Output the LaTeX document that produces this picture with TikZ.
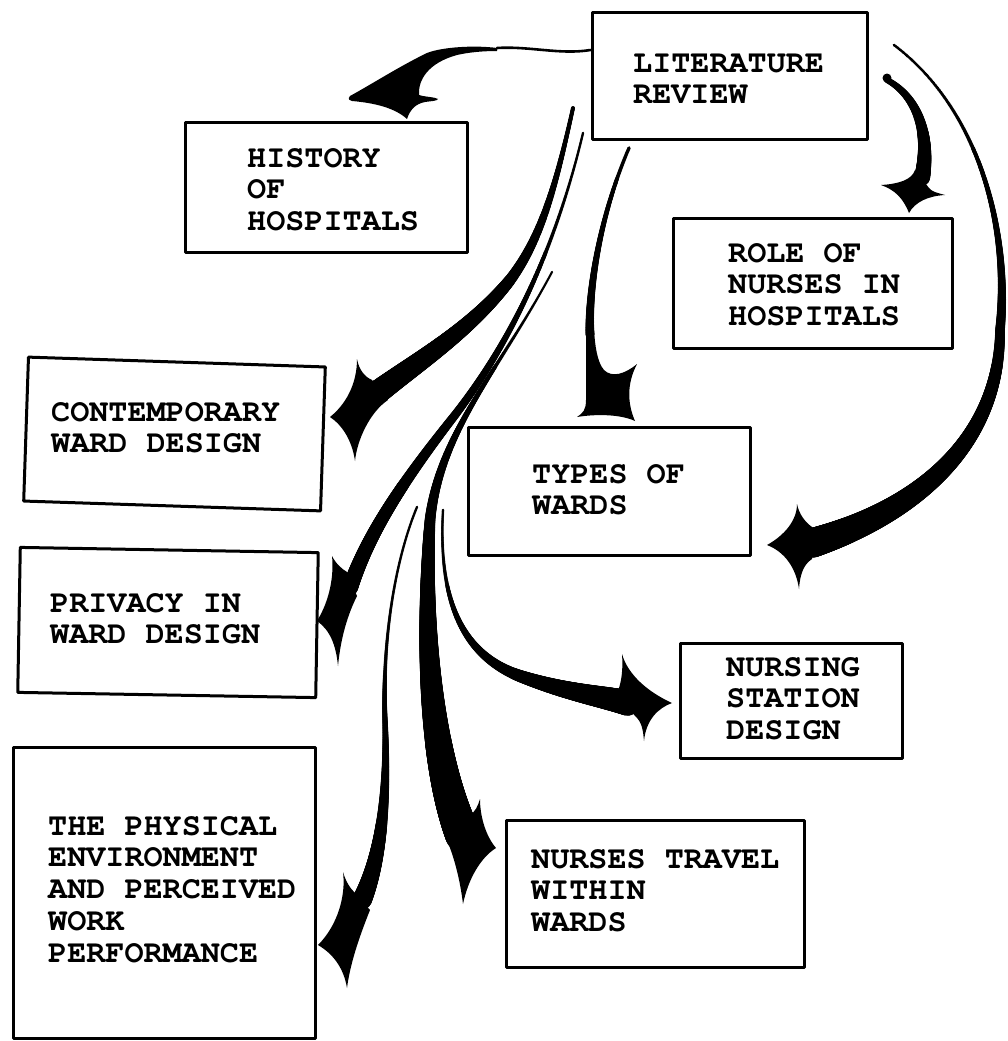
\documentclass[tikz,border=0pt]{standalone}
\usepackage[T1]{fontenc}
\usetikzlibrary{calc,decorations.markings}
\begin{document}
\begin{tikzpicture}[x=1pt,y=-1pt,
  box/.style={draw, line width=3pt, inner sep=0pt, line join=round},
  txt/.style={anchor=north west, inner sep=0pt, align=left,
    font={\fontencoding{T1}\fontfamily{pcr}\fontseries{b}\fontsize{31.8}{31.7}\selectfont}},
  tailline/.style={line width=2.6pt, line cap=round},
  taper/.style n args={3}{postaction={decorate, decoration={markings,
    mark=between positions 0 and 1 step 0.7pt with {%
      \pgfmathsetmacro\rr{#1+(#2-#1)*pow(max(0.001,\pgfkeysvalueof{/pgf/decoration/mark info/distance from start}/\pgfdecoratedpathlength),#3)}%
      \fill (0,0) circle[radius=\rr pt];}}}}]
\useasboundingbox (0,0) rectangle (1008,1041);

% boxes
\node[box, minimum width=275pt, minimum height=126pt] (lit) at (729.5,76) {};
\node[box, minimum width=282pt, minimum height=130pt] (hist) at (326,187) {};
\node[box, minimum width=279pt, minimum height=130pt] (role) at (812.5,283) {};
\node[box, minimum width=297pt, minimum height=144pt, rotate=-1.9] (cont) at (174.5,434) {};
\node[box, minimum width=282pt, minimum height=128pt] (types) at (609,491) {};
\node[box, minimum width=298pt, minimum height=145pt, rotate=-1] (priv) at (168,622.5) {};
\node[box, minimum width=302pt, minimum height=291pt] (phys) at (164,892.5) {};
\node[box, minimum width=222pt, minimum height=115pt] (nsd) at (791,700.5) {};
\node[box, minimum width=298pt, minimum height=147pt] (ntw) at (655,893.5) {};

% texts (first baseline = y + 24)
\node[txt] (lit-t) at (633,48) {\rule{0pt}{24pt}LITERATURE\\REVIEW};
\node[txt] (hist-t) at (247,143) {\rule{0pt}{24pt}HISTORY\\OF\\HOSPITALS};
\node[txt] (role-t) at (728,238) {\rule{0pt}{24pt}ROLE OF\\NURSES IN\\HOSPITALS};
\node[txt] (cont-t) at (51,397) {\rule{0pt}{24pt}CONTEMPORARY\\WARD DESIGN};
\node[txt] (types-t) at (532,459) {\rule{0pt}{24pt}TYPES OF\\WARDS};
\node[txt] (priv-t) at (50,588) {\rule{0pt}{24pt}PRIVACY IN\\WARD DESIGN};
\node[txt] (phys-t) at (48,811) {\rule{0pt}{24pt}THE PHYSICAL\\ENVIRONMENT\\AND PERCEIVED\\WORK\\PERFORMANCE};
\node[txt] (nsd-t) at (726,652) {\rule{0pt}{24pt}NURSING\\STATION\\DESIGN};
\node[txt] (ntw-t) at (531,844) {\rule{0pt}{24pt}NURSES TRAVEL\\WITHIN\\WARDS};

% named ends
\coordinate (h0) at (lit.west |- 0,50);
\coordinate (h1) at (497,48);

% LIT -> HISTORY
\draw[tailline] (h0) .. controls (560,55) and (530,46) .. (h1);
\fill (h1) .. controls (475,45) and (442,47) .. (427,53)
   .. controls (400,66) and (372,84) .. (350,96)
   .. controls (347,99) and (350,101) .. (352,101)
   .. controls (375,103) and (395,108) .. (407,119)
   .. controls (410,110) and (415,104) .. (425,102)
   .. controls (432,101) and (437,101) .. (438,99)
   .. controls (435,97) and (425,97) .. (419,95)
   .. controls (418,80) and (428,63) .. (457,55)
   .. controls (470,52) and (485,51) .. (497,51) -- cycle;

% LIT -> ROLE
\fill (887,78) circle[radius=4.5pt];
\path[taper={3}{8}{1.2}] (887,80) .. controls (915,95) and (931,130) .. (922,178);
\fill (881,185) .. controls (895,190) and (903,198) .. (909,213)
   .. controls (915,202) and (928,196) .. (945,195)
   .. controls (938,193) and (932,192) .. (929,188) -- (915,170)
   .. controls (912,180) and (898,184) .. (881,185) -- cycle;

% LIT -> TYPES (middle)
\path[taper={1.8}{4.5}{1.5}] (629,148) .. controls (600,215) and (588,290) .. (590,335);
\fill (586,330) -- (586,400) .. controls (586,410) and (583,413) .. (577,417)
   .. controls (595,414) and (620,414) .. (635,421)
   .. controls (628,405) and (626,385) .. (637,364)
   .. controls (625,374) and (612,378) .. (604,370)
   .. controls (597,362) and (595,345) .. (594,330) -- cycle;

% LIT -> TYPES (outer arc)
\path[taper={1.4}{15}{2}] (894,45) .. controls (980,110) and (1010,230) .. (1000,330)
   .. controls (1000,440) and (920,510) .. (812,543);
\fill (797,504) .. controls (797,520) and (785,535) .. (767,545)
   .. controls (785,552) and (796,568) .. (799,589)
   .. controls (800,575) and (803,565) .. (812,559) -- (812,527)
   .. controls (805,522) and (799,514) .. (797,504) -- cycle;

% LIT -> CONTEMPORARY
\path[taper={2}{12}{1.5}] (573,108) .. controls (555,190) and (540,240) .. (510,280)
   .. controls (470,330) and (420,360) .. (378,392);
\fill (357,359) .. controls (357,385) and (345,405) .. (330,417)
   .. controls (342,425) and (352,440) .. (355,461)
   .. controls (357,440) and (370,412) .. (388,400) -- (372,380)
   .. controls (365,377) and (359,370) .. (357,359) -- cycle;

% LIT -> PRIVACY
\path[taper={1.3}{8}{1.6}] (583,133) .. controls (560,230) and (520,330) .. (455,415)
   .. controls (400,485) and (368,535) .. (350,588);
\fill (332,556) .. controls (334,575) and (330,600) .. (317,621)
   .. controls (330,630) and (336,645) .. (338,666)
   .. controls (340,645) and (345,620) .. (357,596) -- (347,572)
   .. controls (342,569) and (336,564) .. (332,556) -- cycle;

% -> PHYSICAL ENVIRONMENT
\path[taper={1.3}{10}{3}] (417,507) .. controls (395,560) and (382,640) .. (385,720)
   .. controls (388,800) and (380,860) .. (362,900);
\fill (343,872) .. controls (346,895) and (338,925) .. (318,945)
   .. controls (335,955) and (344,970) .. (347,988)
   .. controls (350,965) and (358,940) .. (370,910) -- (355,893)
   .. controls (350,888) and (346,882) .. (343,872) -- cycle;

% -> NURSES TRAVEL
\path[taper={1.2}{18}{1.8}] (552,272) .. controls (500,370) and (440,430) .. (430,520)
   .. controls (422,650) and (435,770) .. (463,835);
\fill (480,799) .. controls (480,815) and (485,835) .. (496,848)
   .. controls (480,858) and (468,880) .. (463,904)
   .. controls (460,880) and (455,860) .. (447,840) -- (470,815)
   .. controls (475,812) and (478,806) .. (480,799) -- cycle;

% -> NURSING STATION
\path[taper={1.3}{13}{2}] (443,510) .. controls (438,600) and (462,655) .. (520,676)
   .. controls (565,692) and (600,696) .. (628,703);
\fill (622,654) .. controls (628,675) and (648,692) .. (672,703)
   .. controls (658,708) and (646,720) .. (644,741)
   .. controls (643,730) and (642,722) .. (635,716) -- (618,691)
   .. controls (622,680) and (623,668) .. (622,654) -- cycle;
\end{tikzpicture}
\end{document}
